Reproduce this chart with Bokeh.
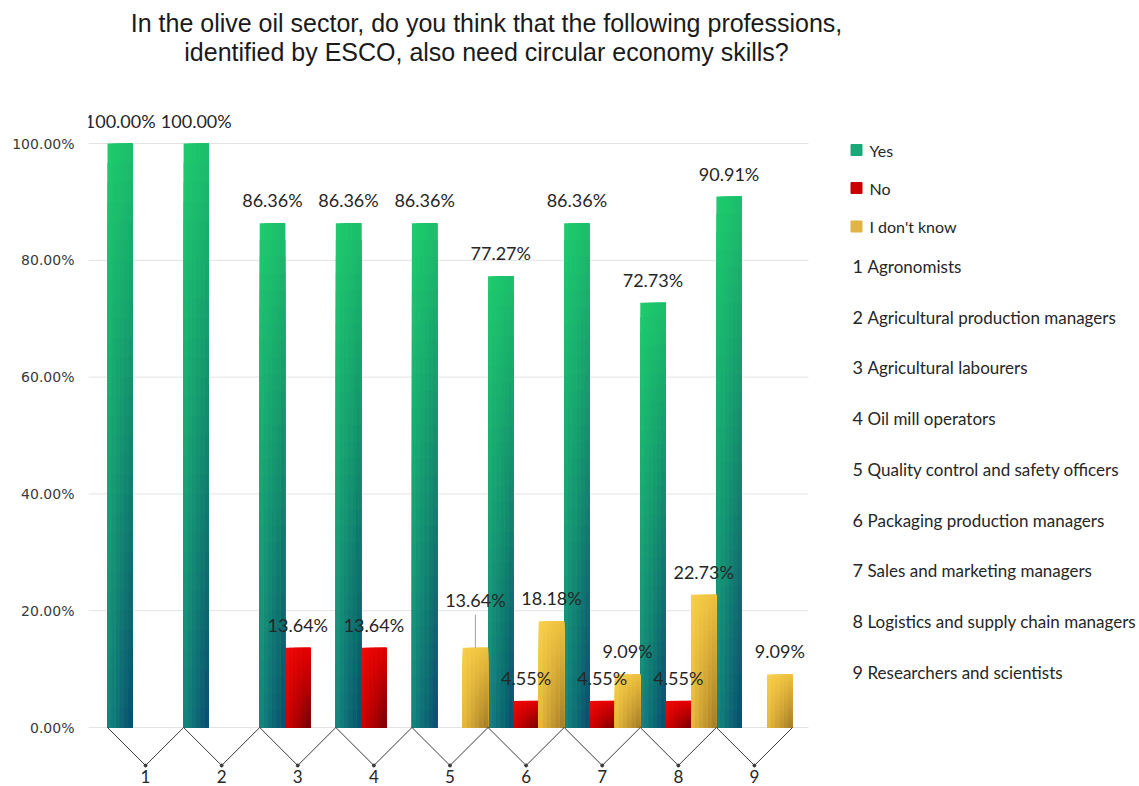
from bokeh.plotting import figure
from bokeh.models import Range1d, FixedTicker, PrintfTickFormatter
from bokeh.core.properties import value
from bokeh.embed import file_html
from bokeh.resources import INLINE

# ---------------- data ----------------
categories = ["1", "2", "3", "4", "5", "6", "7", "8", "9"]
professions = [
    "Agronomists",
    "Agricultural production managers",
    "Agricultural labourers",
    "Oil mill operators",
    "Quality control and safety officers",
    "Packaging production managers",
    "Sales and marketing managers",
    "Logistics and supply chain managers",
    "Researchers and scientists",
]
series_names = ["Yes", "No", "I don't know"]
yes_vals = [100.00, 100.00, 86.36, 86.36, 86.36, 77.27, 86.36, 72.73, 90.91]
no_vals = [0, 0, 13.64, 13.64, 0, 4.55, 4.55, 4.55, 0]
idk_vals = [0, 0, 0, 0, 13.64, 18.18, 9.09, 22.73, 9.09]
y_ticks = [0, 20, 40, 60, 80, 100]
title_lines = [
    "In the olive oil sector, do you think that the following professions,",
    "identified by ESCO, also need circular economy skills?",
]

# ---------------- layout helpers (pixel -> data) ----------------
W, H = 1139, 786
X0PX, XSCALE = 107.0, 76.11   # px of x=0, px per category
Y0PX, YSCALE = 727.0, 5.84    # px of y=0, px per percent


def xd(px):
    return (px - X0PX) / XSCALE


def yd(py):
    return (Y0PX - py) / YSCALE


p = figure(width=W, height=H,
           x_range=Range1d(xd(88), xd(W)), y_range=Range1d(yd(H), yd(0)),
           output_backend="svg", toolbar_location=None,
           x_axis_location=None, y_axis_location="left",
           min_border_left=88, min_border_right=0,
           min_border_top=0, min_border_bottom=0)
p.grid.visible = False
p.outline_line_color = None
p.background_fill_color = "white"
p.border_fill_color = "white"

yax = p.yaxis[0]
yax.ticker = FixedTicker(ticks=y_ticks)
yax.formatter = PrintfTickFormatter(format="%.2f%%")
yax.axis_line_color = None
yax.major_tick_line_color = None
yax.minor_tick_line_color = None
yax.major_tick_in = 0
yax.major_tick_out = 0
yax.major_label_standoff = 14
yax.major_label_text_font = "DejaVu Sans"
yax.major_label_text_font_size = "14px"
yax.major_label_text_color = "#3a3a3a"

# gridlines (only over the chart area)
gx0, gx1 = xd(88), xd(808)
p.segment(x0=[gx0] * len(y_ticks), x1=[gx1] * len(y_ticks), y0=y_ticks, y1=y_ticks,
          line_color="#e3e3e3", line_width=1)

# ---------------- gradient bars ----------------
corners = {
    "Yes": ((30, 204, 108), (28, 190, 108), (20, 136, 126), (10, 74, 112)),
    "No": ((240, 10, 10), (224, 0, 0), (216, 0, 0), (116, 0, 4)),
    "I don't know": ((248, 208, 74), (238, 192, 62), (234, 188, 60), (162, 122, 40)),
}
NX, NY = 6, 30


def mix(a, b, t):
    return tuple(a[k] * (1 - t) + b[k] * t for k in range(3))


def hexc(c):
    return "#%02x%02x%02x" % tuple(int(round(max(0, min(255, v)))) for v in c)


all_series = [yes_vals, no_vals, idk_vals]
for k, (name, vals) in enumerate(zip(series_names, all_series)):
    tl, tr, bl, br = corners[name]
    L, R, T, B, C = [], [], [], [], []
    for i, v in enumerate(vals):
        if v <= 0:
            continue
        left = i + k / 3.0
        width = 1 / 3.0
        right = left + width
        # painter's order: each cell extends to the bar's right edge and bottom,
        # later cells cover the rest -> no seams
        for c in range(NX):
            uu = (c + 0.5) / NX
            for r in reversed(range(NY)):
                vv = (r + 0.5) / NY
                col = mix(mix(bl, br, uu), mix(tl, tr, uu), vv)
                L.append(left + width * c / NX)
                R.append(right)
                B.append(0)
                T.append(v * (r + 1) / NY)
                C.append(hexc(col))
    p.quad(left=L, right=R, top=T, bottom=B, fill_color=C, line_color=None)

# ---------------- value labels ----------------
label_dy_px = [
    [23] * 9,
    [23] * 9,
    [23, 23, 23, 23, 48, 23, 23, 23, 23],
]
lx, ly, lt = [], [], []
lead_x, lead_y0, lead_y1 = [], [], []
for k, vals in enumerate(all_series):
    for i, v in enumerate(vals):
        if v <= 0:
            continue
        cx = i + k / 3.0 + 1 / 6.0
        dy = label_dy_px[k][i]
        lx.append(cx)
        ly.append(v + dy / YSCALE)
        lt.append("%.2f%%" % v)
        if dy > 30:
            lead_x.append(cx)
            lead_y0.append(v)
            lead_y1.append(v + (dy - 15) / YSCALE)
p.segment(x0=lead_x, x1=lead_x, y0=lead_y0, y1=lead_y1, line_color="#a0a0a0", line_width=1)
p.text(x=lx, y=ly, text=lt, text_font=value("Lato"), text_font_size="18px",
       text_color="#262626", text_align="center", text_baseline="middle")

# ---------------- zigzag category axis ----------------
zx, zy = [], []
dot_x = []
for i in range(len(categories)):
    zx += [i, i + 0.5]
    zy += [0, yd(765)]
    dot_x.append(i + 0.5)
zx.append(len(categories))
zy.append(0)
p.line(x=zx, y=zy, line_color="#3a3a3a", line_width=1)
p.scatter(x=dot_x, y=[yd(765)] * len(dot_x), size=3, color="#3a3a3a")
p.text(x=[i + 0.5 for i in range(len(categories))], y=[yd(776)] * len(categories),
       text=categories, text_font=value("Lato"), text_font_size="17px",
       text_color="#262626", text_align="center", text_baseline="middle")

# ---------------- title ----------------
p.text(x=[xd(486)] * 2, y=[yd(22), yd(51)], text=title_lines,
       text_font=value("Liberation Sans"), text_font_size="25px",
       text_color="#1a1a1a", text_align="center", text_baseline="middle")

# ---------------- legend ----------------
legend_colors = ["#1aa878", "#c80000", "#e0b447"]
leg_y = [yd(149.5), yd(187.5), yd(226)]
p.scatter(x=[xd(856)] * 3, y=leg_y, marker="square", size=11,
          fill_color=legend_colors, line_color=legend_colors)
p.text(x=[xd(869)] * 3, y=leg_y, text=series_names, text_font=value("Lato"),
       text_font_size="16px", text_color="#262626", text_align="left",
       text_baseline="middle")

list_y = [yd(266 + 50.7 * i) for i in range(len(categories))]
p.text(x=[xd(852)] * len(categories), y=list_y, text=categories,
       text_font=value("Lato"), text_font_size="18px", text_color="#262626",
       text_align="left", text_baseline="middle")
p.text(x=[xd(867)] * len(categories), y=list_y, text=professions,
       text_font=value("Lato"), text_font_size="17px", text_color="#262626",
       text_align="left", text_baseline="middle")

open("out.html", "w").write(file_html(p, INLINE))
